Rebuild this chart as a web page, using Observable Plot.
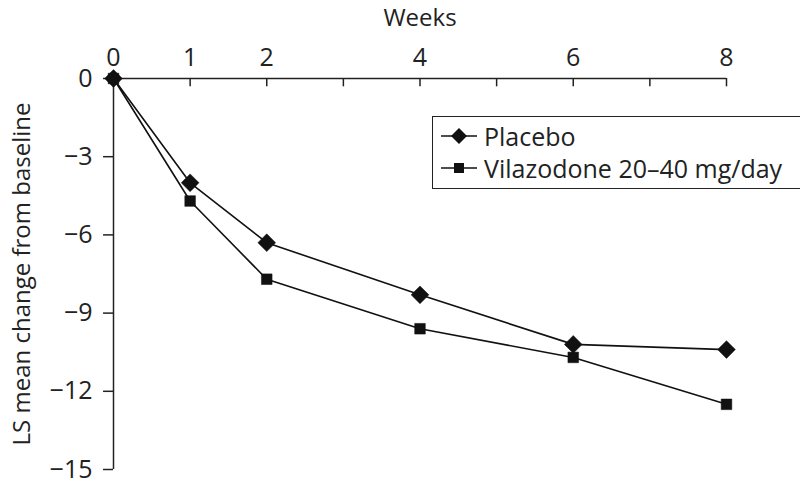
<!DOCTYPE html>
<html>
<head>
<meta charset="utf-8">
<script src="https://cdn.jsdelivr.net/npm/d3@7"></script>
<script src="https://cdn.jsdelivr.net/npm/@observablehq/plot@0.6"></script>
<style>
  html, body { margin: 0; padding: 0; background: #fff; }
  #chart { position: relative; width: 800px; height: 487px; font-family: "Open Sans", sans-serif; }
  #legend { position: absolute; left: 432px; top: 116px; width: 368px; height: 73px; border: 1.5px solid #222; border-right: none; background: #fff; box-sizing: border-box; font-size: 25px; color: #222; padding: 3px 0 0 6px; }
  #legend .row { display: flex; align-items: center; height: 32px; white-space: nowrap; }
  #legend svg { margin-right: 5px; }
</style>
</head>
<body>
<div id="chart"></div>
<script>
const weeks = [0, 1, 2, 4, 6, 8];
const placebo = [0, -4.0, -6.3, -8.3, -10.2, -10.4];
const vilazodone = [0, -4.7, -7.7, -9.6, -10.7, -12.5];
const seriesNames = ["Placebo", "Vilazodone 20\u201340 mg/day"];
const xTicks = [0, 1, 2, 3, 4, 5, 6, 7, 8];
const xTickLabels = [0, 1, 2, 4, 6, 8];
const yTicks = [0, -3, -6, -9, -12, -15];
const xTitle = "Weeks";
const yTitle = "LS mean change from baseline";

const placeboData = weeks.map((w, i) => ({week: w, value: placebo[i], series: seriesNames[0]}));
const vilaData = weeks.map((w, i) => ({week: w, value: vilazodone[i], series: seriesNames[1]}));
const data = [...placeboData, ...vilaData];
const minus = d => d < 0 ? "\u2212" + (-d) : String(d);

const chart = Plot.plot({
  width: 800,
  height: 487,
  marginLeft: 113,
  marginTop: 78,
  marginRight: 74,
  marginBottom: 18,
  style: {fontFamily: "Open Sans, sans-serif", color: "#222", background: "#fff"},
  x: {domain: [0, 8], axis: null},
  y: {domain: [-15, 0], axis: null},
  marks: [
    // tick labels
    Plot.text(xTickLabels, {x: d => d, y: 0, text: d => String(d), dy: -21, textAnchor: "middle", lineAnchor: "middle", fontSize: 25, fill: "#222"}),
    Plot.text(yTicks, {x: 0, y: d => d, text: minus, dx: -21, textAnchor: "end", lineAnchor: "middle", fontSize: 25, fill: "#222"}),
    // titles
    Plot.text([xTitle], {frameAnchor: "top", dy: -60, textAnchor: "middle", lineAnchor: "middle", fontSize: 24, fill: "#222"}),
    Plot.text([yTitle], {frameAnchor: "left", dx: -91, rotate: -90, textAnchor: "middle", lineAnchor: "middle", fontSize: 24, fill: "#222"}),
    // axis lines and ticks
    Plot.ruleY([0], {stroke: "#222", strokeWidth: 1.5}),
    Plot.ruleX([0], {y1: -15, y2: 0, stroke: "#222", strokeWidth: 1.5}),
    Plot.ruleX(xTicks, {x: d => d, y1: 0, y2: -0.32, stroke: "#222", strokeWidth: 1.5}),
    Plot.ruleY(yTicks, {y: d => d, x1: -0.13, x2: 0, stroke: "#222", strokeWidth: 1.5}),
    // data
    Plot.line(data, {x: "week", y: "value", z: "series", stroke: "#111", strokeWidth: 1.6}),
    Plot.dot(placeboData, {x: "week", y: "value", symbol: "diamond2", r: 8, fill: "#111", stroke: "#111", strokeWidth: 0.5}),
    Plot.dot(vilaData, {x: "week", y: "value", symbol: "square", r: 6, fill: "#111", stroke: "#111", strokeWidth: 0.5})
  ]
});
document.getElementById("chart").appendChild(chart);

// legend
const legend = document.createElement("div");
legend.id = "legend";
seriesNames.forEach(name => {
  const row = document.createElement("div");
  row.className = "row";
  const sym = name === seriesNames[0]
    ? '<polygon points="20,3 28,11 20,19 12,11" fill="#111"/>'
    : '<rect x="15" y="6" width="10" height="10" fill="#111"/>';
  row.innerHTML = `<svg width="40" height="22"><line x1="2" y1="11" x2="38" y2="11" stroke="#111" stroke-width="1.6"/>${sym}</svg><span>${name}</span>`;
  legend.appendChild(row);
});
document.getElementById("chart").appendChild(legend);
</script>
</body>
</html>
